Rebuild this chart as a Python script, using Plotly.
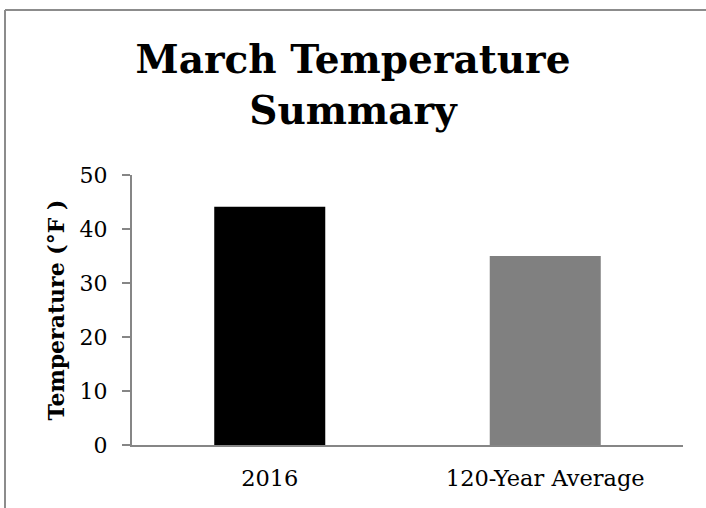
import plotly.graph_objects as go

categories = ["2016", "120-Year Average"]
values = [44.1, 35.0]
bar_colors = ["#000000", "#808080"]
y_ticks = [0, 10, 20, 30, 40, 50]

FONT = "DejaVu Serif"

fig = go.Figure(go.Bar(x=categories, y=values, marker=dict(color=bar_colors, line=dict(width=0)),
                       width=0.403))

L, R, T, B = 132, 23, 175, 63
W, H = 706, 508
pw, ph = W - L - R, H - T - B

def px(x):
    return (x - L) / pw

def py(y):
    return (H - B - y) / ph

fig.update_layout(
    width=W, height=H,
    margin=dict(l=L, r=R, t=T, b=B),
    paper_bgcolor="white", plot_bgcolor="white",
    showlegend=False,
    title=dict(text="<b>March Temperature<br>Summary</b>", x=0.5, xanchor="center",
               y=1 - 73 / H, yanchor="top",
               font=dict(family=FONT, size=39, color="black")),
    font=dict(family=FONT, color="black"),
    xaxis=dict(showline=True, linecolor="#868686", linewidth=2, ticks="", showgrid=False,
               tickfont=dict(size=22.5, family=FONT, color="black"), ticklabelstandoff=12),
    yaxis=dict(range=[0, 50], tickvals=y_ticks, showline=True, linecolor="#868686", linewidth=2,
               ticks="outside", ticklen=8, tickwidth=2, tickcolor="#868686", showgrid=False,
               zeroline=False, tickfont=dict(size=22, family=FONT, color="black"),
               ticklabelstandoff=10,
               title=dict(text="<b>Temperature (°F )</b>", font=dict(size=22, family=FONT), standoff=9)),
    shapes=[
        dict(type="line", xref="paper", yref="paper", x0=px(5), x1=px(W + 5), y0=py(10), y1=py(10),
             line=dict(color="#8c8c8c", width=2)),
        dict(type="line", xref="paper", yref="paper", x0=px(5), x1=px(5), y0=py(10), y1=py(H + 5),
             line=dict(color="#8c8c8c", width=2)),
    ],
)

fig.write_html("out.html", config={"displayModeBar": False},
               post_script="document.body.style.margin='0';document.body.style.padding='0';")
